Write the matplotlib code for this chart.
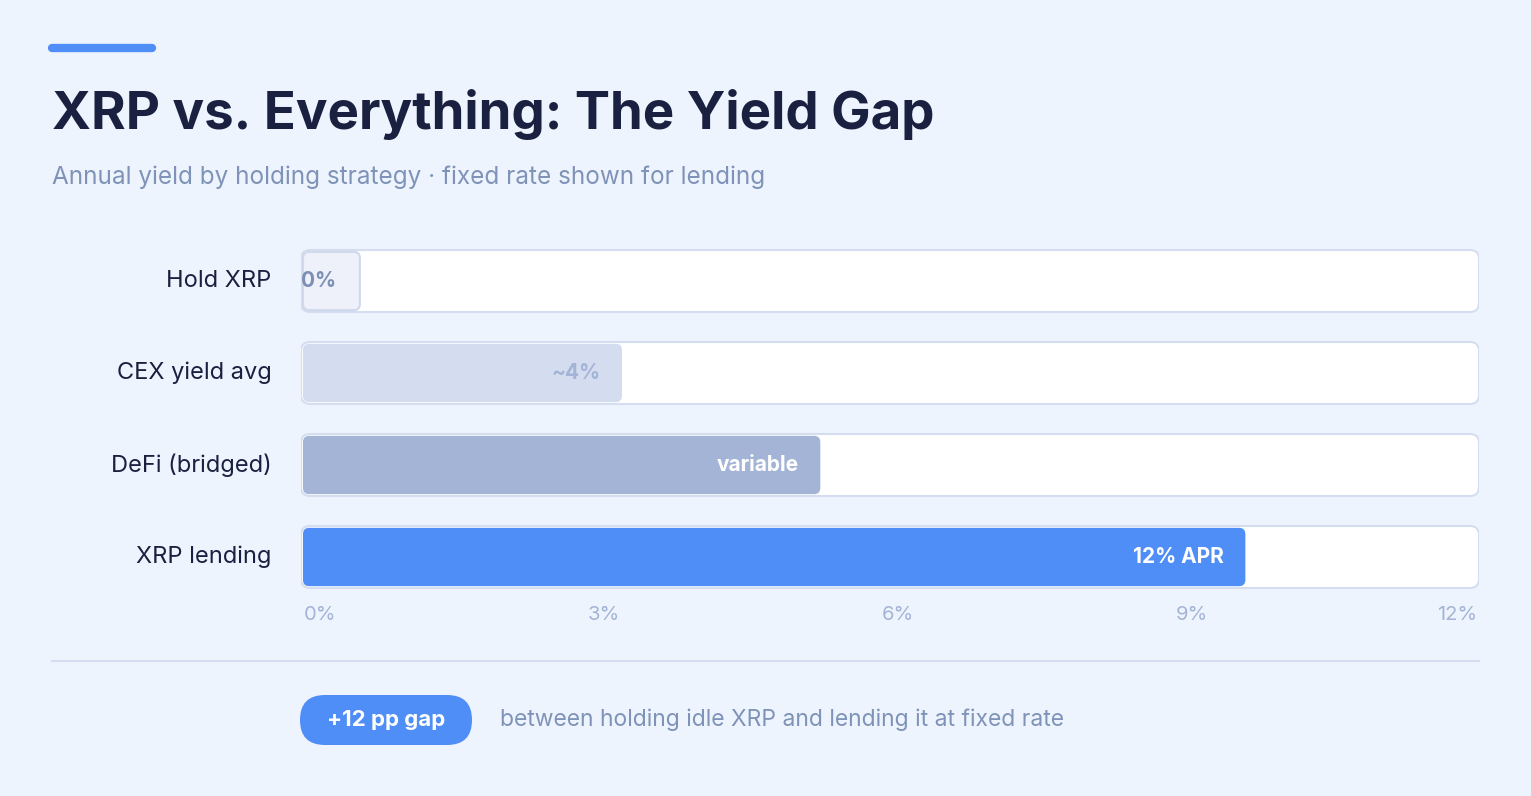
import matplotlib
matplotlib.use("Agg")
import matplotlib.pyplot as plt
from matplotlib.patches import FancyBboxPatch

categories = ["Hold XRP", "CEX yield avg", "DeFi (bridged)", "XRP lending"]
bar_values = [0.58, 3.25, 5.27, 9.6]   # drawn length on the 0-12 axis
bar_labels = ["0%", "~4%", "variable", "12% APR"]
tick_values = [0, 3, 6, 9, 12]
tick_labels = ["0%", "3%", "6%", "9%", "12%"]
axis_max = 12

bar_colors = ["#EEF1F9", "#D4DCF0", "#A3B4D6", "#4F8EF7"]
label_colors = ["#7D8FB5", "#A4B4D6", "#FFFFFF", "#FFFFFF"]
bar_edges = ["#D0D8EC", "none", "none", "none"]

W, H = 1531, 796
BG = "#EEF4FE"
FONT = ["Inter", "DejaVu Sans"]
fig = plt.figure(figsize=(W / 100, H / 100), dpi=100, facecolor=BG)

def fx(px): return px / W
def fy(py): return 1 - py / H

# header
fig.add_artist(plt.Line2D([fx(52), fx(152)], [fy(48), fy(48)], color="#4F8EF7", lw=6, solid_capstyle="round"))
fig.text(fx(52), fy(115), "XRP vs. Everything: The Yield Gap", fontsize=38, fontweight="bold",
         color="#1A2140", family=FONT, va="center")
fig.text(fx(52), fy(177), "Annual yield by holding strategy · fixed rate shown for lending", fontsize=17.5,
         color="#7F93B8", family=FONT, va="center")

# bar axes
ax = fig.add_axes([fx(301), fy(603), 1178 / W, 368 / H])
ax.set_xlim(0, axis_max)
ax.set_ylim(3.5, -0.5)
ax.axis("off")
ax.patch.set_alpha(0)
px_x = 1178 / axis_max
px_y = 92
asp = px_x / px_y
h = 62 / px_y
r = 9 / px_x
for i, (cat, v) in enumerate(zip(categories, bar_values)):
    track = FancyBboxPatch((0, i - h / 2), axis_max, h, boxstyle=f"round,pad=0,rounding_size={r}",
                           mutation_aspect=asp, facecolor="white", edgecolor="#D5DEF0", lw=1.5, zorder=1)
    ax.add_patch(track)
    bar = FancyBboxPatch((0.02, i - h / 2 + 0.02), v, h - 0.04, boxstyle=f"round,pad=0,rounding_size={r * 0.7}",
                         mutation_aspect=asp, facecolor=bar_colors[i], edgecolor=bar_edges[i], lw=1.5, zorder=2)
    ax.add_patch(bar)
    if i == 0:
        ax.text(0.0, i, bar_labels[i], ha="left", va="center", fontsize=15, fontweight="bold",
                color=label_colors[i], family=FONT, zorder=3)
    else:
        ax.text(v - 0.2, i, bar_labels[i], ha="right", va="center", fontsize=15, fontweight="bold",
                color=label_colors[i], family=FONT, zorder=3)
    ax.text(-0.3, i, cat, ha="right", va="center", fontsize=17, color="#1A2140", family=FONT, clip_on=False)

for t, lab in zip(tick_values, tick_labels):
    ha = "left" if t == 0 else ("right" if t == axis_max else "center")
    xx = 0.03 if t == 0 else (axis_max - 0.02 if t == axis_max else t + 0.08)
    ax.text(xx, 3.5 + 12 / px_y, lab, ha=ha, va="center", fontsize=14.5, color="#A4B4D6",
            family=FONT, clip_on=False)

# separator
fig.add_artist(plt.Line2D([fx(52), fx(1479)], [fy(661), fy(661)], color="#D5DEF0", lw=1.5))

# footer pill
pill = FancyBboxPatch((fx(300), fy(745)), fx(172), 50 / H, boxstyle="round,pad=0,rounding_size=0.0163",
                      mutation_aspect=W / H, transform=fig.transFigure, facecolor="#4F8EF7", edgecolor="none")
fig.add_artist(pill)
fig.text(fx(386), fy(720), "+12 pp gap", ha="center", va="center", fontsize=16, fontweight="bold",
         color="white", family=FONT)
fig.text(fx(500), fy(720), "between holding idle XRP and lending it at fixed rate", ha="left", va="center",
         fontsize=16.5, color="#7F93B8", family=FONT)

fig.savefig("out.png", dpi=100, facecolor=BG)
